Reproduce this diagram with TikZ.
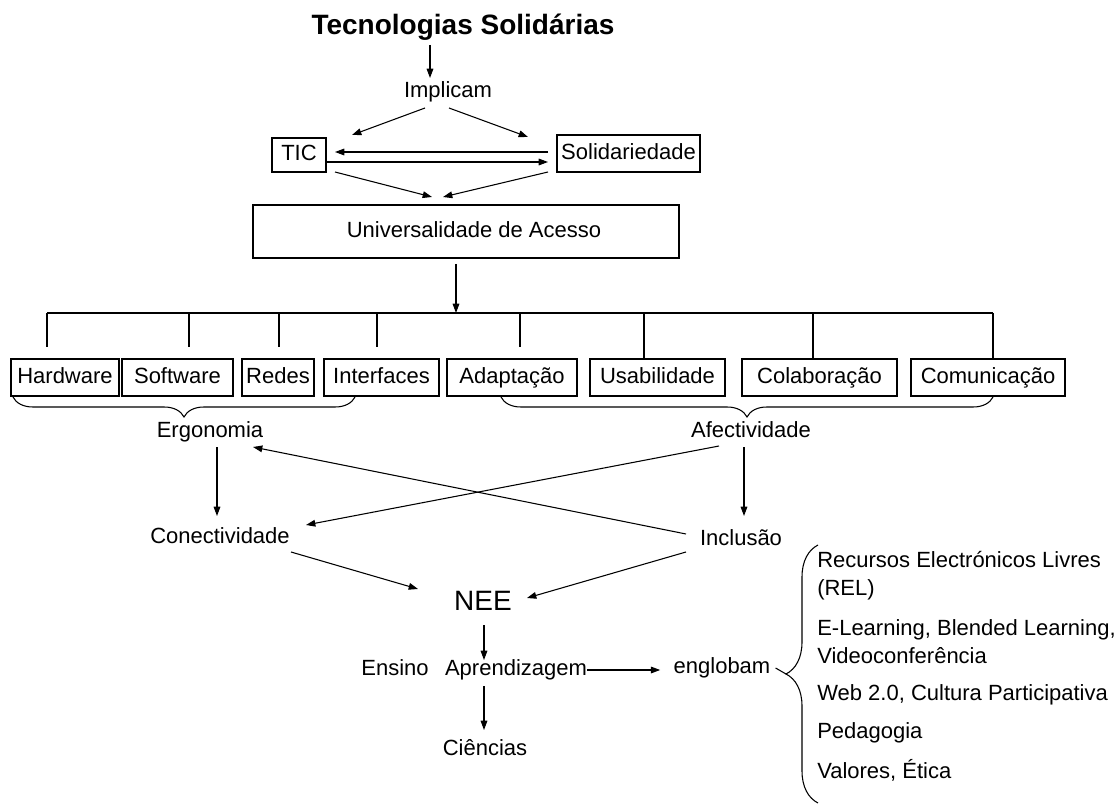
\documentclass[tikz,border=0pt]{standalone}
\usepackage{fontspec}
\setmainfont{Liberation Sans}
\usetikzlibrary{arrows.meta,decorations.pathreplacing}
\begin{document}
\begin{tikzpicture}[x=0.75pt,y=-0.75pt,
  lbl/.style={font=\fontsize{16.5}{21}\selectfont, inner sep=0pt, text height=12pt, text depth=3.5pt},
  bx/.style={draw, line width=0.8pt, inner sep=0pt, font=\fontsize{16.5}{21}\selectfont, text height=12pt, text depth=3.5pt, minimum height=27.75pt},
  arr/.style={-{Triangle[length=7pt,width=5pt]}, line width=0.8pt},
  ln/.style={line width=0.8pt},
  brc/.style={line width=0.8pt, decorate},
  item/.style={font=\fontsize{16.5}{21}\selectfont, inner sep=0pt, anchor=west, align=left}]
\useasboundingbox (0,0) rectangle (1117,805);

% ---- top ----
\node[inner sep=0pt, font=\bfseries\fontsize{21}{25}\selectfont] (title) at (463,27) {Tecnologias Solidárias};
\node[lbl] (impl) at (448,92) {Implicam};
\node[bx, minimum width=40.5pt, minimum height=25.5pt] (tic) at (299,155) {TIC};
\node[bx, minimum width=107.25pt] (sol) at (628.5,153.5) {Solidariedade};
\node[bx, minimum width=319.5pt, minimum height=39.75pt] (univ) at (466,231.5) {\hspace*{12pt}Universalidade de Acesso};

\coordinate (ta) at (430,45); \coordinate (tb) at (430,78);
\draw[arr] (ta) -- (tb);
\coordinate (i1) at (425,108); \coordinate (i1e) at (352,135);
\coordinate (i2) at (449,108); \coordinate (i2e) at (528,137);
\draw[arr] (i1) -- (i1e);
\draw[arr] (i2) -- (i2e);
\coordinate (s1) at (548,152); \coordinate (s1e) at (335,152);
\coordinate (c1) at (326,162); \coordinate (c1e) at (548,162);
\draw[arr] (s1) -- (s1e);
\draw[arr] (c1) -- (c1e);
\coordinate (tl) at (335,172); \coordinate (tle) at (432,197);
\coordinate (sl) at (548,172); \coordinate (sle) at (443,197);
\draw[arr] (tl) -- (tle);
\draw[arr] (sl) -- (sle);

% ---- tree ----
\coordinate (u1) at (456,264); \coordinate (u1e) at (456,313);
\draw[arr] (u1) -- (u1e);
\coordinate (hl) at (47,313); \coordinate (hr) at (993,313);
\draw[ln] (hl) -- (hr);

\node[bx, minimum width=81pt]    (hw)  at (65,377.5)    {Hardware};
\node[bx, minimum width=83.25pt] (sw)  at (177.5,377.5) {Software};
\node[bx, minimum width=54pt]    (red) at (278,377.5)   {Redes};
\node[bx, minimum width=86.25pt] (itf) at (381.5,377.5) {Interfaces};
\node[bx, minimum width=97.5pt]  (ada) at (512,377.5)   {Adaptação};
\node[bx, minimum width=101.25pt](usa) at (657.5,377.5) {Usabilidade};
\node[bx, minimum width=116.25pt](col) at (819.5,377.5) {Colaboração};
\node[bx, minimum width=115.5pt] (com) at (988,377.5)   {Comunicação};

\foreach \x/\n in {47/a,189/b,279/c,377/d,520/e}{
  \coordinate (v\n) at (\x,313);
  \draw[ln] (v\n) -- ++(0,34);
}
\foreach \x/\n in {644/f,813/g,993/h}{
  \coordinate (v\n) at (\x,313);
}
\draw[ln] (vf) -- (vf |- usa.north);
\draw[ln] (vg) -- (vg |- col.north);
\draw[ln] (vh) -- (vh |- com.north);

% braces
\coordinate (b1s) at (13,397); \coordinate (b1e) at (355,397);
\draw[brc, decoration={brace, mirror, amplitude=15pt}] (b1s) -- (b1e);
\coordinate (b2s) at (501,397); \coordinate (b2e) at (993,397);
\draw[brc, decoration={brace, mirror, amplitude=15pt}] (b2s) -- (b2e);

\node[lbl] (erg) at (210,432) {Ergonomia};
\node[lbl] (afe) at (751,432) {Afectividade};
\node[lbl] (con) at (220,538) {Conectividade};
\node[lbl] (inc) at (741,540) {Inclusão};

\coordinate (e1) at (217,447); \coordinate (e1e) at (217,516);
\draw[arr] (e1) -- (e1e);
\coordinate (a1) at (744,447); \coordinate (a1e) at (744,516);
\draw[arr] (a1) -- (a1e);
\coordinate (n1) at (686,534); \coordinate (n1e) at (253,447);
\draw[arr] (n1) -- (n1e);
\coordinate (a2) at (719,446); \coordinate (a2e) at (306,525);
\draw[arr] (a2) -- (a2e);
\coordinate (c2) at (291,552); \coordinate (c2e) at (418,589);
\draw[arr] (c2) -- (c2e);
\coordinate (n2) at (686,552); \coordinate (n2e) at (527,598);
\draw[arr] (n2) -- (n2e);

% ---- bottom ----
\node[inner sep=0pt, font=\fontsize{21}{25}\selectfont] (nee) at (483,601) {NEE};
\node[lbl] (ens) at (395,670) {Ensino};
\node[lbl] (apr) at (516,670) {Aprendizagem};
\node[lbl] (eng) at (722,668) {englobam};
\node[lbl] (cie) at (485,750) {Ciências};

\coordinate (ne1) at (484,625); \coordinate (ne1e) at (484,660);
\draw[arr] (ne1) -- (ne1e);
\coordinate (ap1) at (484,686); \coordinate (ap1e) at (484,730);
\draw[arr] (ap1) -- (ap1e);
\draw[arr] (apr.east) -- ++(73,0) coordinate (ape);

\coordinate (b3s) at (818,545); \coordinate (b3e) at (818,803);
\draw[brc, decoration={brace, mirror, amplitude=24pt}] (b3s) -- (b3e);
\coordinate (brtip) at (786,674);
\draw[ln] (eng.east) ++(5,0) coordinate (engd) -- (brtip);

\node[item] (it1) at (817,576) {Recursos Electrónicos Livres\\(REL)};
\node[item] (it2) at (817,641.5) {E-Learning, Blended Learning,\\Videoconferência};
\node[item] (it3) at (817,695) {Web 2.0, Cultura Participativa};
\node[item] (it4) at (817,733) {Pedagogia};
\node[item] (it5) at (817,770) {Valores, Ética};
\end{tikzpicture}
\end{document}
